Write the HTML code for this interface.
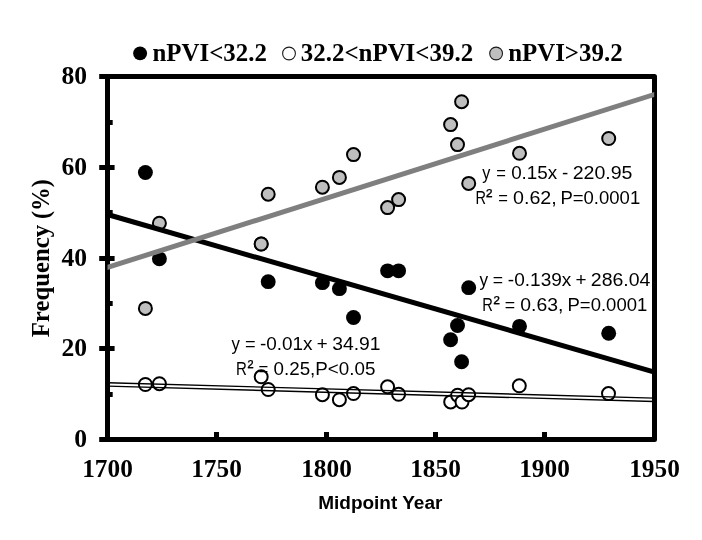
<!DOCTYPE html>
<html lang="en"><head><meta charset="utf-8"><title>Frequency vs Midpoint Year</title>
<style>html,body{margin:0;padding:0;background:#fff}svg{display:block}text{font-family:"Liberation Serif",serif;font-weight:bold;fill:#000}.s{font-family:"Liberation Sans",sans-serif;font-weight:normal}.sb{font-family:"Liberation Sans",sans-serif;font-weight:bold}</style></head><body>
<svg width="702" height="540" viewBox="0 0 702 540">
<rect width="702" height="540" fill="#fff"/>
<g stroke="#000" stroke-width="5" fill="none">
<rect x="107.5" y="76.5" width="547.00" height="363.00" stroke-linejoin="round"/>
<line x1="99.2" x2="114.6" y1="439.5" y2="439.5"/>
<line x1="99.2" x2="114.6" y1="348.5" y2="348.5"/>
<line x1="99.2" x2="114.6" y1="258.5" y2="258.5"/>
<line x1="99.2" x2="114.6" y1="167.5" y2="167.5"/>
<line x1="99.2" x2="114.6" y1="76.5" y2="76.5"/>
<line x1="107.5" x2="112.7" y1="394.5" y2="394.5"/>
<line x1="107.5" x2="112.7" y1="303.5" y2="303.5"/>
<line x1="107.5" x2="112.7" y1="212.5" y2="212.5"/>
<line x1="107.5" x2="112.7" y1="122.5" y2="122.5"/>
<line y1="439.5" y2="432" x1="216.5" x2="216.5"/>
<line y1="439.5" y2="432" x1="326.5" x2="326.5"/>
<line y1="439.5" y2="432" x1="435.5" x2="435.5"/>
<line y1="439.5" y2="432" x1="544.5" x2="544.5"/>
</g>
<g fill="#000">
<circle cx="608.7" cy="333.25" r="7.45"/>
<circle cx="519.5" cy="326.35" r="7.45"/>
<circle cx="468.7" cy="287.65" r="7.45"/>
<circle cx="461.6" cy="361.75" r="7.45"/>
<circle cx="457.5" cy="325.55" r="7.45"/>
<circle cx="450.6" cy="339.75" r="7.45"/>
<circle cx="398.6" cy="270.85" r="7.45"/>
<circle cx="387.6" cy="270.85" r="7.45"/>
<circle cx="353.5" cy="317.45" r="7.45"/>
<circle cx="339.4" cy="288.65" r="7.45"/>
<circle cx="322.4" cy="282.65" r="7.45"/>
<circle cx="268.2" cy="281.65" r="7.45"/>
<circle cx="261.2" cy="244.05" r="7.45"/>
<circle cx="159.4" cy="258.85" r="7.45"/>
<circle cx="145.4" cy="172.55" r="7.45"/>
</g>
<g fill="#fff" stroke="#000" stroke-width="2">
<circle cx="145.4" cy="384.5" r="6.5"/>
<circle cx="159.4" cy="383.7" r="6.5"/>
<circle cx="261.2" cy="376.8" r="6.5"/>
<circle cx="268.2" cy="389.5" r="6.5"/>
<circle cx="322.4" cy="394.7" r="6.5"/>
<circle cx="339.4" cy="399.7" r="6.5"/>
<circle cx="353.5" cy="393.5" r="6.5"/>
<circle cx="387.6" cy="386.8" r="6.5"/>
<circle cx="398.6" cy="394.3" r="6.5"/>
<circle cx="450.7" cy="401.9" r="6.5"/>
<circle cx="457.6" cy="395.2" r="6.5"/>
<circle cx="462.0" cy="402.0" r="6.5"/>
<circle cx="468.6" cy="394.7" r="6.5"/>
<circle cx="519.3" cy="385.8" r="6.5"/>
<circle cx="608.5" cy="393.6" r="6.5"/>
</g>
<g fill="#bfbfbf" stroke="#000" stroke-width="2">
<circle cx="608.7" cy="138.5" r="6.5"/>
<circle cx="519.5" cy="153.3" r="6.5"/>
<circle cx="468.7" cy="183.4" r="6.5"/>
<circle cx="461.6" cy="101.7" r="6.5"/>
<circle cx="457.5" cy="144.6" r="6.5"/>
<circle cx="450.6" cy="124.6" r="6.5"/>
<circle cx="398.6" cy="199.6" r="6.5"/>
<circle cx="387.6" cy="207.6" r="6.5"/>
<circle cx="353.5" cy="154.6" r="6.5"/>
<circle cx="339.4" cy="177.4" r="6.5"/>
<circle cx="322.4" cy="187.2" r="6.5"/>
<circle cx="268.2" cy="194.2" r="6.5"/>
<circle cx="261.2" cy="244.0" r="6.5"/>
<circle cx="159.4" cy="223.2" r="6.5"/>
<circle cx="145.4" cy="308.4" r="6.5"/>
</g>
<line x1="107.5" y1="214.5" x2="654.5" y2="372.1" stroke="#000" stroke-width="5"/>
<g stroke="#000" stroke-width="1.4"><line x1="108" y1="382.75" x2="654" y2="398.10"/><line x1="108" y1="386.15" x2="654" y2="401.50"/></g>
<polygon points="107.5,264.78 654.2,91.88 654.2,97.12 107.5,270.02" fill="#7f7f7f"/>
<g font-size="25.3" text-anchor="middle">
<text x="107.5" y="476.5">1700</text>
<text x="216.5" y="476.5">1750</text>
<text x="326.5" y="476.5">1800</text>
<text x="435.5" y="476.5">1850</text>
<text x="544.5" y="476.5">1900</text>
<text x="654.5" y="476.5">1950</text>
</g>
<g font-size="25.6" text-anchor="end">
<text x="87" y="446.80">0</text>
<text x="87" y="355.80">20</text>
<text x="87" y="265.80">40</text>
<text x="87" y="174.80">60</text>
<text x="87" y="83.80">80</text>
</g>
<text font-size="26" transform="translate(49.2,337.3) rotate(-90)"><tspan x="0" textLength="112.4" lengthAdjust="spacingAndGlyphs">Frequency</tspan><tspan x="112.4" textLength="45.6" lengthAdjust="spacingAndGlyphs"> (%)</tspan></text>
<text class="sb" font-size="17.5" x="318.2" y="508.8" textLength="124.2" lengthAdjust="spacingAndGlyphs">Midpoint Year</text>
<circle cx="140.1" cy="53.4" r="6.95" fill="#000"/>
<circle cx="289" cy="53.5" r="6.4" fill="#fff" stroke="#1a1a1a" stroke-width="1.1"/>
<circle cx="496.1" cy="53.5" r="6.4" fill="#bfbfbf" stroke="#1a1a1a" stroke-width="1.1"/>
<g font-size="25">
<text x="152.5" y="60.5" textLength="114.4" lengthAdjust="spacingAndGlyphs">nPVI&lt;32.2</text>
<text x="300.8" y="60.5" textLength="172.3" lengthAdjust="spacingAndGlyphs">32.2&lt;nPVI&lt;39.2</text>
<text x="508.2" y="60.5" textLength="114.4" lengthAdjust="spacingAndGlyphs">nPVI&gt;39.2</text>
</g>
<g font-size="17.6">
<text class="s" y="178.9"><tspan x="482.31" textLength="8.08" lengthAdjust="spacingAndGlyphs">y</tspan> <tspan x="496.25" textLength="9.67" lengthAdjust="spacingAndGlyphs">=</tspan> <tspan x="511.15" textLength="46.12" lengthAdjust="spacingAndGlyphs">0.15x</tspan> <tspan x="562.14" textLength="6.27" lengthAdjust="spacingAndGlyphs">-</tspan> <tspan x="572.70" textLength="59.81" lengthAdjust="spacingAndGlyphs">220.95</tspan></text>
<text class="s" y="204.25"><tspan x="475.44" textLength="10.51" lengthAdjust="spacingAndGlyphs">R</tspan><tspan x="486.10" dy="-2" font-size="18.5" stroke="#000" stroke-width="0.2" textLength="6.40" lengthAdjust="spacingAndGlyphs">²</tspan><tspan dy="2"> </tspan><tspan x="498.15" textLength="9.67" lengthAdjust="spacingAndGlyphs">=</tspan> <tspan x="513.02" textLength="43.71" lengthAdjust="spacingAndGlyphs">0.62,</tspan> <tspan x="560.43" textLength="79.76" lengthAdjust="spacingAndGlyphs">P=0.0001</tspan></text>
<text class="s" y="285.6"><tspan x="479.40" textLength="8.60" lengthAdjust="spacingAndGlyphs">y</tspan> <tspan x="492.80" textLength="10.28" lengthAdjust="spacingAndGlyphs">=</tspan> <tspan x="507.83" textLength="63.49" lengthAdjust="spacingAndGlyphs">-0.139x</tspan> <tspan x="575.64" textLength="11.00" lengthAdjust="spacingAndGlyphs">+</tspan> <tspan x="590.80" textLength="59.58" lengthAdjust="spacingAndGlyphs">286.04</tspan></text>
<text class="s" y="311.25"><tspan x="482.33" textLength="10.63" lengthAdjust="spacingAndGlyphs">R</tspan><tspan x="493.40" dy="-2" font-size="18.5" stroke="#000" stroke-width="0.2" textLength="6.30" lengthAdjust="spacingAndGlyphs">²</tspan><tspan dy="2"> </tspan><tspan x="504.89" textLength="10.40" lengthAdjust="spacingAndGlyphs">=</tspan> <tspan x="520.33" textLength="43.07" lengthAdjust="spacingAndGlyphs">0.63,</tspan> <tspan x="567.53" textLength="79.76" lengthAdjust="spacingAndGlyphs">P=0.0001</tspan></text>
<text class="s" y="349.9"><tspan x="231.50" textLength="8.39" lengthAdjust="spacingAndGlyphs">y</tspan> <tspan x="244.97" textLength="10.64" lengthAdjust="spacingAndGlyphs">=</tspan> <tspan x="259.94" textLength="52.59" lengthAdjust="spacingAndGlyphs">-0.01x</tspan> <tspan x="316.65" textLength="10.88" lengthAdjust="spacingAndGlyphs">+</tspan> <tspan x="332.23" textLength="48.29" lengthAdjust="spacingAndGlyphs">34.91</tspan></text>
<text class="s" y="374.6"><tspan x="236.10" textLength="10.88" lengthAdjust="spacingAndGlyphs">R</tspan><tspan x="247.50" dy="-2" font-size="18.5" stroke="#000" stroke-width="0.2" textLength="6.00" lengthAdjust="spacingAndGlyphs">²</tspan><tspan dy="2"> </tspan><tspan x="258.54" textLength="9.79" lengthAdjust="spacingAndGlyphs">=</tspan> <tspan x="273.55" textLength="101.81" lengthAdjust="spacingAndGlyphs">0.25,P&lt;0.05</tspan></text>
</g>
</svg></body></html>
